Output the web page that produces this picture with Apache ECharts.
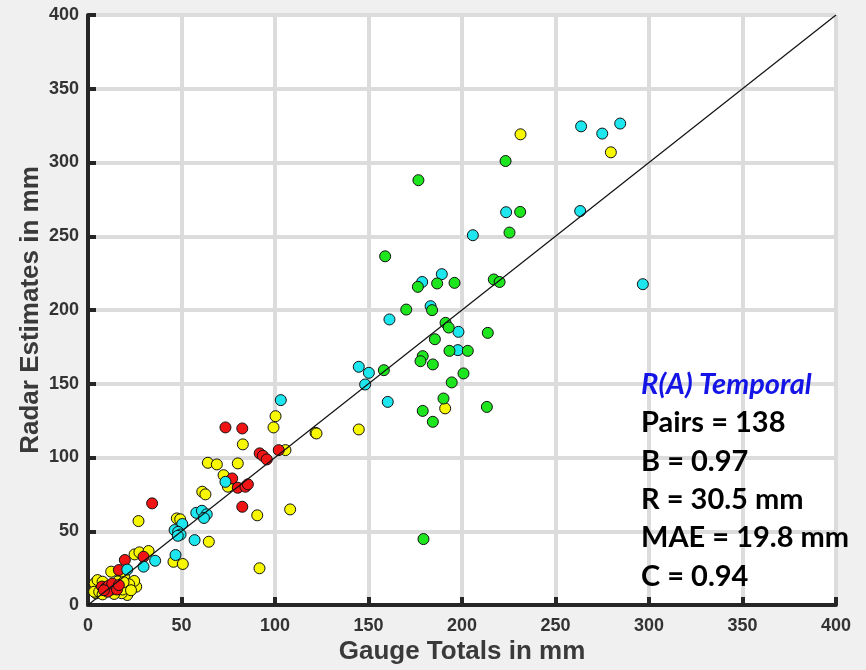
<!DOCTYPE html>
<html>
<head>
<meta charset="utf-8">
<script src="https://cdn.jsdelivr.net/npm/echarts@6/dist/echarts.min.js"></script>
<style>
  html, body { margin: 0; padding: 0; background: #f0f0f0; }
  #chart { width: 866px; height: 670px; }
</style>
</head>
<body>
<div id="chart"></div>
<script>
// Gauge totals (x) vs radar estimates (y), in mm, grouped by marker colour
const redPairs = [
  [73.5, 120.4], [82.5, 119.7], [102, 105], [91.8, 102.8], [93.5, 101.2], [95.6, 98.7],
  [77.1, 85.8], [80.1, 79.5], [84.2, 80.2], [85.5, 81.8], [82.5, 66.6], [34.3, 68.9],
  [29.7, 32.7], [19.7, 30.5], [16.5, 23.7],
  [7.5, 12.5], [9.5, 11.5], [11, 13], [12.5, 10.5], [14, 12], [10.5, 9], [13, 14.5],
  [8.5, 10], [15.5, 10.5], [16.5, 13.5]
];
const cyanPairs = [
  [205.8, 250.7], [189.2, 224.3], [178.7, 219], [183.2, 202.6], [161.2, 193.6], [198.1, 185.2],
  [197.8, 172.8], [144.8, 161.5], [150.2, 157.4], [148.2, 149.5], [160.3, 137.7], [263.7, 324.5],
  [275, 319.6], [284.6, 326.4], [223.6, 266.3], [263.2, 267.1], [296.7, 217.5], [103.1, 138.9],
  [73.5, 83.5], [57.9, 62.5], [60.9, 63.9], [63.5, 61.5], [62, 59], [50.4, 54.9],
  [46.3, 50.8], [48.2, 49.6], [49.5, 47.8], [48, 46.9], [57, 44], [46.8, 33.9],
  [35.9, 30], [29.7, 26], [21, 24]
];
const yellowPairs = [
  [231.3, 319.1], [279.6, 306.9], [191, 133.3], [144.8, 119], [121.7, 116.7], [122.2, 116.3],
  [100.3, 128], [99.2, 120.4], [82.8, 108.9], [105.6, 105], [64.1, 96.4], [68.9, 95.3],
  [80.1, 96], [72.5, 88], [74.8, 80.2], [61.1, 76.8], [62.8, 75], [108.1, 64.8],
  [90.5, 60.8], [27, 56.9], [47.5, 58.7], [49.3, 58.1], [64.6, 42.9], [24.9, 34.3],
  [27.5, 35.7], [32.4, 36.6], [45.7, 29.3], [50.7, 27.8], [91.7, 24.9], [12.4, 22.6],
  [25.8, 12.4], [5.2, 15.8], [4.4, 7.9],
  [3.6, 14.7], [5.1, 16.9], [7.8, 15.8], [3.3, 9], [6, 9], [7.8, 7.2], [17.5, 18],
  [19.3, 19.2], [24.7, 16.3], [21, 6.8], [18, 8], [20, 12], [22, 14], [16, 16],
  [18.5, 10.5], [23, 10], [14, 7.5], [19, 15.5]
];
const greenPairs = [
  [158.9, 236.4], [176.7, 288], [176.4, 215.7], [186.7, 218], [196, 218.4], [217, 220.7],
  [220.1, 219], [170.2, 200.3], [184, 199.9], [191.2, 191.3], [192.9, 188.1], [213.8, 184.5],
  [185.5, 180.2], [193.3, 172.3], [203.1, 172.3], [179, 168.7], [177.8, 165.3], [184.4, 163.1],
  [158.2, 159.2], [200.8, 157], [194.5, 150.9], [190.1, 140], [213.3, 134.3], [179, 131.6],
  [184.4, 124.2], [179.4, 44.7], [223.3, 301], [231.1, 266.5], [225.4, 252.5]
];
// 1:1 reference line
const identityLine = [[0, 0], [400, 400]];

// Axis range and tick step (mm)
const axisMin = 0;
const axisMax = 400;
const axisStep = 50;

// Statistics box
const statTitle = 'R(A) Temporal';
const statLines = ['Pairs = 138', 'B = 0.97', 'R = 30.5 mm', 'MAE = 19.8 mm', 'C = 0.94'];

const chart = echarts.init(document.getElementById('chart'), null, { renderer: 'canvas' });

const tickFont = { color: '#333333', fontSize: 18, fontWeight: 'bold', fontFamily: 'Liberation Sans, Arial, sans-serif' };

function makeAxis(name, isX) {
  return {
    type: 'value',
    min: axisMin,
    max: axisMax,
    interval: axisStep,
    name: name,
    nameLocation: 'middle',
    nameMoveOverlap: false,
    nameGap: isX ? 34 : 44,
    nameTextStyle: { color: '#3a3a3a', fontSize: 26, fontWeight: 'bold', fontFamily: 'Liberation Sans, Arial, sans-serif' },
    axisLine: { show: true, onZero: false, lineStyle: { color: '#262626', width: 4 } },
    axisTick: { show: true, inside: true, length: 8, lineStyle: { color: '#262626', width: 4 } },
    axisLabel: Object.assign({ margin: isX ? 12 : 9 }, tickFont),
    splitLine: { show: true, lineStyle: { color: '#dcdcdc', width: 4 } }
  };
}

function scatterSeries(name, data, color) {
  return {
    name: name,
    type: 'scatter',
    data: data,
    symbol: 'circle',
    symbolSize: 11,
    itemStyle: { color: color, borderColor: '#111111', borderWidth: 1, opacity: 1 },
    z: 3,
    silent: true
  };
}

const textFont = 'Lato, "Open Sans", sans-serif';
const lineGap = 38.4;
const statGraphics = [{
  type: 'text',
  left: 641,
  top: 383 - 13,
  z: 100,
  style: { text: statTitle, fill: '#1414e6', font: 'italic bold 29px ' + textFont }
}].concat(statLines.map(function (t, i) {
  return {
    type: 'text',
    left: 641,
    top: 383 + (i + 1) * lineGap - 13,
    z: 100,
    style: { text: t, fill: '#000000', font: 'bold 29px ' + textFont }
  };
}));

chart.setOption({
  backgroundColor: '#f0f0f0',
  animation: false,
  grid: {
    left: 88, right: 30, top: 15, bottom: 65,
    containLabel: false, outerBoundsMode: 'none',
    show: true, backgroundColor: '#ffffff', borderWidth: 0
  },
  xAxis: makeAxis('Gauge Totals in mm', true),
  yAxis: makeAxis('Radar Estimates in mm', false),
  series: [
    scatterSeries('yellow', yellowPairs, '#f7f700'),
    scatterSeries('red', redPairs, '#f01414'),
    scatterSeries('cyan', cyanPairs, '#1ee6ee'),
    scatterSeries('green', greenPairs, '#1ee61e'),
    {
      type: 'line',
      data: identityLine,
      symbol: 'none',
      lineStyle: { color: '#111111', width: 1.2 },
      z: 4,
      silent: true
    }
  ],
  graphic: statGraphics
});
</script>
</body>
</html>
